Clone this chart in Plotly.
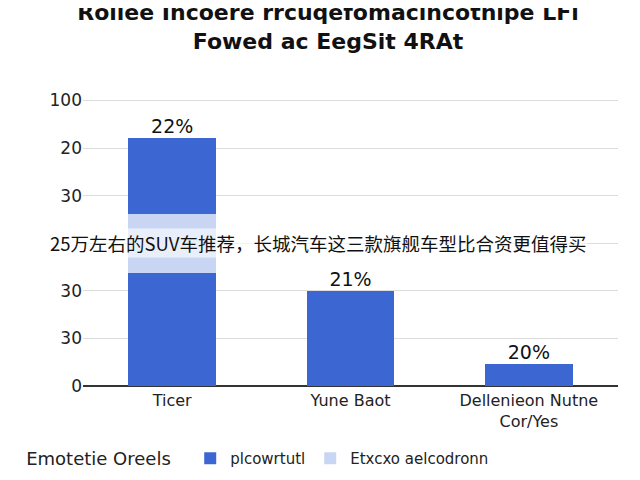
import plotly.graph_objects as go

categories = ["Ticer", "Yune Baot", "Dellenieon Nutne<br>Cor/Yes"]
lower_vals = [2.38, 2.0, 0.47]
band_vals = [1.24, 0, 0]
upper_vals = [1.6, 0, 0]
pct_labels = ["22%", "21%", "20%"]
tick_vals = [0, 1, 2, 3, 4, 5, 6]
tick_text = ["0", "30", "30", "", "30", "20", "100"]

blue = "#3c67d3"
light = "#c9d6f3"

totals = [a + b + c for a, b, c in zip(lower_vals, band_vals, upper_vals)]

fig = go.Figure()
fig.add_bar(x=categories, y=lower_vals, marker=dict(color=blue, line=dict(width=0)),
            name="plcowrtutl", width=0.49)
fig.add_bar(x=categories, y=band_vals, marker=dict(color=light, line=dict(width=0)),
            name="Etxcxo aelcodronn", width=0.49)
fig.add_bar(x=categories, y=upper_vals, marker=dict(color=blue, line=dict(width=0)),
            showlegend=False, width=0.49)
fig.add_scatter(x=categories, y=totals, mode="text", text=pct_labels, cliponaxis=False,
                textposition="top center", textfont=dict(size=19, color="#111"), showlegend=False)

fig.update_layout(
    barmode="stack", width=640, height=480, template="plotly_white",
    paper_bgcolor="white", plot_bgcolor="white",
    margin=dict(l=75, r=30, t=83, b=95),
    font=dict(family="DejaVu Sans", color="#222", size=16),
    title=dict(text="<b>Roliee Incoere rrcuqefomacincothipe LFi<br>Fowed ac EegSit 4RAt</b>",
               x=0.5, y=0.975, xanchor="center", yanchor="top", font=dict(size=22, color="#111")),
    legend=dict(orientation="h", x=-0.11, y=-0.19, xanchor="left", yanchor="top",
                traceorder="normal",
                title=dict(text="Emotetie Oreels  "), font=dict(size=15)),
)
fig.update_yaxes(range=[0, 6.2], tickvals=tick_vals, ticktext=tick_text,
                 gridcolor="#dddddd", zeroline=True, zerolinecolor="#333", tickfont=dict(size=17))
fig.update_xaxes(showline=True, linecolor="#333", tickfont=dict(size=16))
fig.add_annotation(text="25万左右的SUV车推荐，长城汽车这三款旗舰车型比合资更值得买",
                   xref="paper", yref="paper", x=0.44, y=3/6.2, showarrow=False,
                   font=dict(family="Noto Sans CJK SC", size=18.5, color="#111"),
                   bgcolor="rgba(255,255,255,0.6)")
fig.write_html("out.html")
